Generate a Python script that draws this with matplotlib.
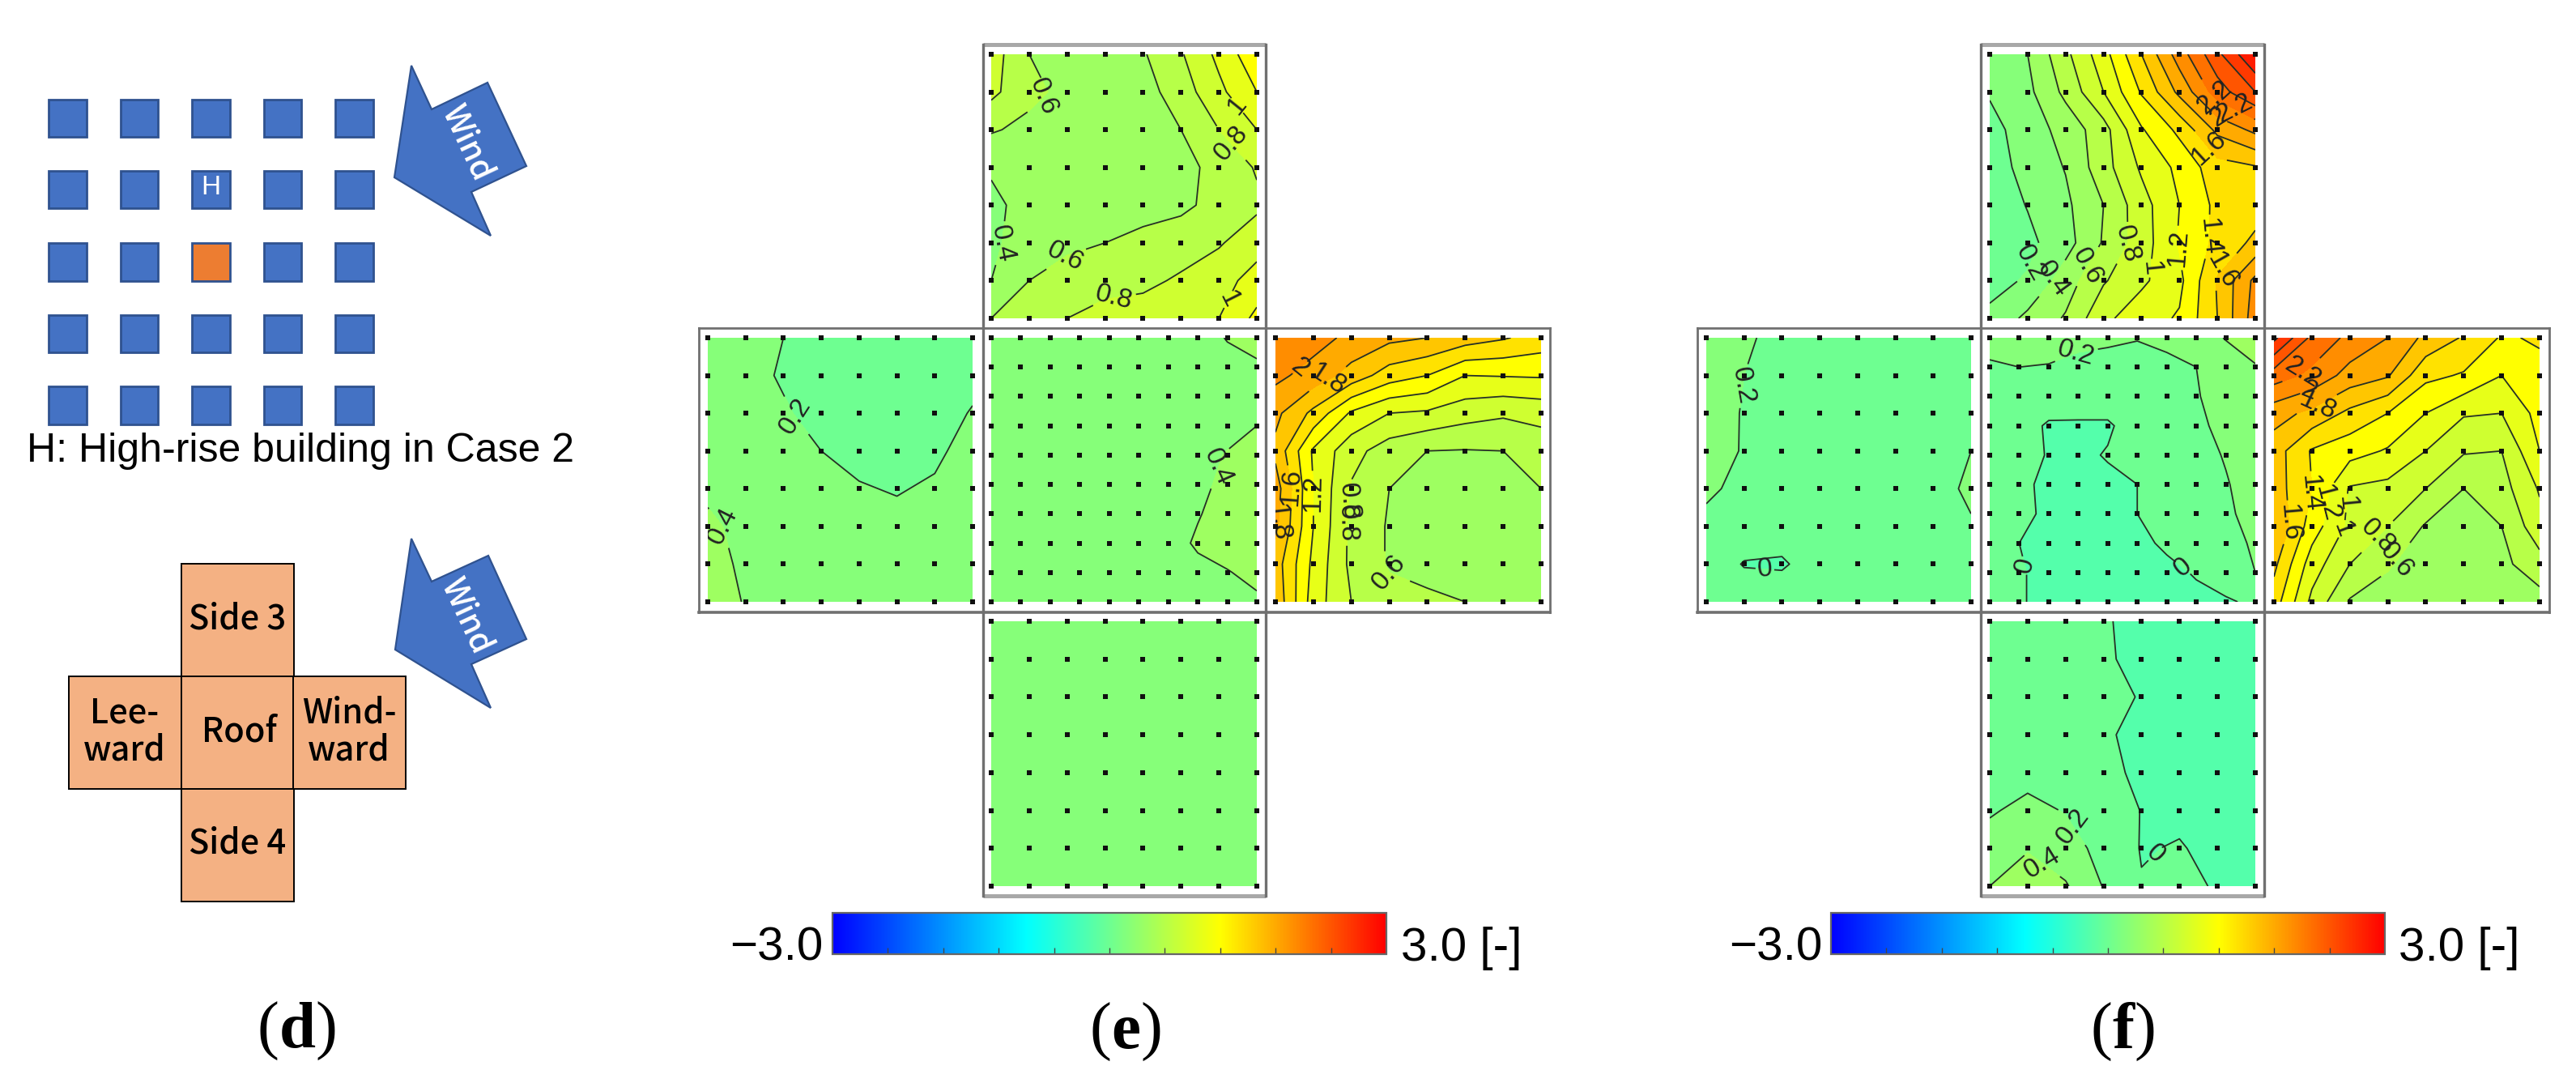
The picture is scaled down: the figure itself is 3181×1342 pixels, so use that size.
import numpy as np
import matplotlib
matplotlib.use("Agg")
import matplotlib.pyplot as plt
from matplotlib.colors import LinearSegmentedColormap, Normalize
from matplotlib.cm import ScalarMappable
from matplotlib.patches import Polygon, Rectangle

W, H = 3181, 1342

# ---------- values (rows top to bottom) ----------
e_side3 = [
    [.90, .60, .55, .50, .58, .78, 1.05, 1.35],
    [.85, .65, .55, .50, .52, .70, .95, 1.20],
    [.62, .55, .50, .48, .50, .60, .80, 1.00],
    [.42, .47, .48, .48, .50, .55, .65, .82],
    [.36, .46, .48, .50, .52, .56, .66, .76],
    [.36, .50, .55, .60, .66, .70, .78, .92],
    [.40, .60, .70, .75, .75, .83, .92, 1.08],
    [.60, .68, .80, .85, .90, .95, 1.00, 1.25],
]
e_leeward = [
    [.32, .26, .20, .15, .13, .12, .12, .13],
    [.30, .23, .19, .15, .12, .11, .12, .16],
    [.31, .26, .21, .17, .14, .13, .14, .21],
    [.33, .28, .25, .20, .16, .15, .17, .26],
    [.38, .30, .27, .24, .21, .19, .22, .28],
    [.42, .37, .30, .28, .26, .24, .26, .30],
    [.44, .38, .33, .30, .29, .28, .28, .30],
    [.48, .39, .35, .33, .32, .31, .30, .30],
]
e_roof = [
    [.28, .28, .28, .28, .29, .30, .30, .32, .41, .50],
    [.28, .28, .28, .28, .29, .29, .30, .31, .34, .36],
    [.28, .28, .28, .28, .29, .29, .30, .31, .33, .36],
    [.28, .28, .28, .28, .29, .29, .30, .32, .35, .40],
    [.28, .28, .28, .28, .29, .30, .31, .35, .41, .47],
    [.28, .28, .28, .28, .29, .30, .32, .37, .43, .50],
    [.28, .28, .28, .28, .29, .30, .33, .39, .46, .52],
    [.28, .28, .28, .28, .29, .30, .34, .42, .48, .52],
    [.28, .28, .28, .28, .29, .30, .32, .36, .39, .45],
    [.28, .28, .28, .28, .29, .30, .30, .32, .34, .37],
]
e_windward = [
    [2.20, 2.08, 1.95, 1.85, 1.80, 1.70, 1.62, 1.52],
    [2.05, 1.92, 1.72, 1.50, 1.40, 1.20, 1.21, 1.22],
    [1.85, 1.55, 1.17, 1.00, .97, .88, .83, .87],
    [1.75, 1.17, .87, .70, .60, .59, .60, .68],
    [1.90, 1.20, .78, .60, .55, .52, .52, .60],
    [1.85, 1.20, .75, .58, .52, .50, .52, .55],
    [1.70, 1.15, .75, .58, .53, .50, .52, .55],
    [1.75, 1.10, .80, .67, .64, .60, .55, .55],
]
e_side4 = [
    [.30, .30, .30, .30, .30, .30, .30, .30],
    [.30, .30, .30, .30, .30, .30, .30, .30],
    [.30, .30, .30, .30, .30, .30, .30, .30],
    [.30, .30, .30, .30, .30, .30, .30, .30],
    [.30, .30, .30, .30, .30, .30, .30, .30],
    [.30, .30, .30, .30, .30, .30, .30, .30],
    [.30, .30, .30, .30, .30, .30, .30, .30],
    [.30, .30, .30, .30, .30, .30, .30, .30],
]
f_side3 = [
    [.30, .40, .75, 1.12, 1.60, 2.10, 2.55, 3.00],
    [.22, .35, .65, 1.00, 1.42, 1.85, 2.30, 2.60],
    [.13, .30, .47, .72, 1.18, 1.45, 1.85, 2.05],
    [.10, .27, .41, .72, 1.03, 1.25, 1.52, 1.58],
    [.07, .21, .36, .60, .92, 1.20, 1.45, 1.50],
    [.05, .15, .32, .62, .90, 1.22, 1.45, 1.65],
    [.14, .22, .50, .78, .96, 1.15, 1.62, 2.05],
    [.24, .45, .62, .95, 1.12, 1.22, 1.60, 2.10],
]
f_leeward = [
    [.30, .22, .16, .12, .10, .10, .10, .10],
    [.28, .20, .14, .10, .09, .09, .10, .11],
    [.27, .19, .13, .10, .09, .09, .10, .13],
    [.26, .19, .13, .10, .09, .09, .11, .20],
    [.22, .17, .12, .10, .09, .09, .16, .22],
    [.17, .10, .08, .08, .09, .09, .12, .19],
    [.10, -.01, -.02, .08, .09, .09, .10, .12],
    [.11, .10, .10, .10, .10, .10, .10, .11],
]
f_roof = [
    [.32, .30, .28, .26, .24, .21, .25, .30, .41, .55],
    [.16, .20, .19, .14, .12, .12, .15, .20, .30, .38],
    [.10, .10, .09, .08, .08, .08, .11, .19, .26, .33],
    [.08, .07, -.02, -.02, -.02, .07, .10, .17, .24, .30],
    [.10, .06, -.01, -.03, .01, .06, .09, .15, .21, .28],
    [.10, .03, -.03, -.04, -.03, .00, .07, .12, .19, .26],
    [.09, .04, -.03, -.05, -.04, -.00, .05, .10, .18, .24],
    [.08, .00, -.04, -.05, -.05, -.03, .02, .08, .15, .22],
    [.08, .01, -.03, -.05, -.05, -.05, -.03, .01, .09, .20],
    [.08, .01, -.03, -.05, -.05, -.05, -.05, -.03, -.02, .03],
]
f_windward = [
    [2.85, 2.35, 2.15, 2.00, 1.75, 1.58, 1.38, 1.42],
    [2.30, 2.15, 1.92, 1.82, 1.45, 1.38, 1.20, 1.35],
    [1.88, 1.75, 1.55, 1.40, 1.20, 1.02, 1.00, 1.27],
    [1.70, 1.38, 1.28, 1.18, 1.00, .82, .80, 1.20],
    [1.70, 1.40, .98, .94, .80, .60, .72, 1.02],
    [1.80, 1.30, .95, .80, .58, .55, .60, .93],
    [1.65, 1.10, .80, .62, .50, .50, .55, .72],
    [1.50, .95, .58, .52, .50, .50, .50, .52],
]
f_side4 = [
    [.07, .07, .05, .01, -.03, -.05, -.05, -.05],
    [.07, .07, .05, .01, -.02, -.05, -.05, -.05],
    [.08, .08, .07, .05, -.01, -.04, -.05, -.05],
    [.09, .08, .05, .01, -.02, -.04, -.05, -.05],
    [.12, .14, .20, .04, -.03, -.04, -.05, -.05],
    [.18, .25, .19, .10, -.005, -.03, -.05, -.05],
    [.28, .39, .28, .14, -.01, .01, -.04, -.05],
    [.40, .48, .42, .19, .01, .03, -.01, -.04],
]

contour_levels = [round(v, 1) for v in np.arange(-3.0, 3.01, 0.2)]
colorbar_ticks = [-2.4, -1.8, -1.2, -0.6, 0.0, 0.6, 1.2, 1.8, 2.4]

# ---------- label placement (column, row on each patch grid) ----------
e_labels = {
    "side3": [(1.3, 1.04), (6.52, 1.33), (6.25, 2.42), (.33, 5.03), (1.98, 5.42), (3.25, 6.56), (6.25, 6.5)],
    "leeward": [(2.35, 2.05), (.55, 4.96)],
    "roof": [(7.84, 4.47)],
    "windward": [(.55, .67), (1.23, .82), (1.75, 4.32), (2.88, 6.34), (1.68, 4.9), (.18, 4.9), (.4, 3.97), (1, 4.12)],
    "side4": [],
}
f_labels = {
    "side3": [(1.12, 5.57), (1.84, 6.07), (2.74, 5.72), (3.72, 5.08), (4.24, 5.67), (4.99, 5.13), (5.71, 4.84),
              (6.12, 5.72), (6.04, 1.04), (6.22, 1.48), (5.97, 1.82), (5.82, 2.47)],
    "leeward": [(.85, 1.26), (1.53, 6.39)],
    "roof": [(2.95, .6), (.92, 7.83), (6.61, 7.77)],
    "windward": [(.78, .95), (.93, 1.41), (1.2, 1.9), (.7, 4.07), (1.23, 4.36), (1.68, 4.36), (1.68, 5),
                 (2.65, 5.2), (3.34, 5.99), (.25, 4.91)],
    "side4": [(2.22, 5.4), (1.39, 6.38), (4.39, 6.18)],
}

# ---------- colour scale ----------
cmap = LinearSegmentedColormap.from_list(
    "cp", [(0.0, "#0000ff"), (0.35, "#00ffff"), (0.70, "#ffff00"), (1.0, "#ff0000")], N=512)
norm = Normalize(-3, 3)
band_colors = [cmap(norm(v)) for v in contour_levels[:-1]]  # each band takes the colour of its lower level

fig = plt.figure(figsize=(W / 100, H / 100), dpi=100, facecolor="white")


def rect_axes(x0, y0, x1, y1, **kw):
    return fig.add_axes([x0 / W, 1 - y1 / H, (x1 - x0) / W, (y1 - y0) / H], **kw)


bg = fig.add_axes([0, 0, 1, 1], zorder=0)
bg.set_xlim(0, W)
bg.set_ylim(H, 0)
bg.axis("off")

over = fig.add_axes([0, 0, 1, 1], zorder=5)
over.set_xlim(0, W)
over.set_ylim(H, 0)
over.axis("off")
over.patch.set_alpha(0)

SANS = ["Liberation Sans", "DejaVu Sans"]
SERIF = ["Liberation Serif", "DejaVu Serif"]
LABEL = ["Noto Sans CJK JP", "Noto Sans", "DejaVu Sans"]
BLUE, BLUE_EDGE = "#4472C4", "#2F528F"


def wind_arrow(pts, center):
    bg.add_patch(Polygon(pts, closed=True, fc=BLUE, ec=BLUE_EDGE, lw=1.6))
    bg.text(center[0], center[1], "Wind", color="white", fontsize=29, family=["Noto Sans CJK JP", "DejaVu Sans"],
            weight="medium", rotation=-65, rotation_mode="anchor", ha="center", va="center")


def caption(cx, cy, letter):
    em = 81
    adv = {"d": .556, "e": .444, "f": .333}[letter] * em
    fs = em * .72
    bg.text(cx - adv / 2, cy, "(", family=SERIF, fontsize=fs, ha="right", va="center_baseline")
    bg.text(cx, cy, letter, family=SERIF, weight="bold", fontsize=fs, ha="center", va="center_baseline")
    bg.text(cx + adv / 2, cy, ")", family=SERIF, fontsize=fs, ha="left", va="center_baseline")


# ---------- panel (d) ----------
col_edges = [(60, 107), (149, 195), (237, 284), (326, 372), (414, 461)]
row_edges = [(123, 169), (211, 257), (300, 347), (389, 435), (477, 524)]
for r, (y0, y1) in enumerate(row_edges):
    for c, (x0, x1) in enumerate(col_edges):
        fc = "#ED7D31" if (r, c) == (2, 2) else BLUE
        bg.add_patch(Rectangle((x0, y0), x1 - x0, y1 - y0, fc=fc, ec=BLUE_EDGE, lw=2))
bg.text(260, 232, "H", color="white", fontsize=24, family=SANS, ha="center", va="center")
bg.text(33, 570, "H: High-rise building in Case 2", fontsize=36, family=SANS, ha="left", va="baseline")
wind_arrow([(508, 81), (533, 135), (602, 102), (650, 205), (582, 237), (606, 291), (487, 219)], (577, 176))
wind_arrow([(508, 665), (533, 718), (603, 686), (650, 789), (582, 820), (606, 874), (488, 802)], (576, 760))

net = [(224, 696), (85, 835), (224, 835), (362, 835), (224, 974)]
for x, y in net:
    bg.add_patch(Rectangle((x, y), 139, 139, fc="#F4B183", ec="black", lw=1.4))
for (x, y), s in zip([(293, 764), (154, 880), (154, 926), (295, 903), (431, 880), (431, 926), (293, 1041)],
                     ["Side 3", "Lee-", "ward", "Roof", "Wind-", "ward", "Side 4"]):
    bg.text(x, y, s, fontsize=30, family=LABEL, weight="medium", ha="center", va="center")
caption(367, 1265, "d")


# ---------- contour panels ----------
def patch(x0, y0, x1, y1, values, labels):
    z = np.array(values, dtype=float)
    n = z.shape[0]
    ax = rect_axes(x0, y0, x1, y1, zorder=2)
    ax.axis("off")
    xs, ys = np.arange(n), np.arange(n)
    ax.contourf(xs, ys, z, levels=contour_levels, colors=band_colors)
    if z.max() - z.min() > 0:
        cs = ax.contour(xs, ys, z, levels=contour_levels, colors="#263026", linewidths=1.3)
        if labels:
            ax.clabel(cs, manual=labels, fmt="%g", fontsize=24, inline=True, inline_spacing=1)
            for t in cs.labelTexts:
                t.set_family(SANS)
                t.set_color("#222222")
    gx, gy = np.meshgrid(xs, ys)
    ax.scatter(gx.ravel(), gy.ravel(), s=14, marker="s", c="#101010", linewidths=0, clip_on=False, zorder=4)
    ax.set_xlim(0, n - 1)
    ax.set_ylim(n - 1, 0)


def panel(fx, px, data, labels, letter, cap_x, bar_x, lo_x, hi_x):
    (l0, l1), (c0, c1), (r0, r1) = px
    ys = [(67, 393), (417, 743), (767, 1094)]
    patch(c0, ys[0][0], c1, ys[0][1], data["side3"], labels["side3"])
    patch(l0, ys[1][0], l1, ys[1][1], data["leeward"], labels["leeward"])
    patch(c0, ys[1][0], c1, ys[1][1], data["roof"], labels["roof"])
    patch(r0, ys[1][0], r1, ys[1][1], data["windward"], labels["windward"])
    patch(c0, ys[2][0], c1, ys[2][1], data["side4"], labels["side4"])

    dark, light = "#707070", "#a8a8a8"
    over.plot([fx[1], fx[2]], [55, 55], color=light, lw=3.6, solid_capstyle="butt")
    over.plot([fx[1], fx[2]], [1106, 1106], color=light, lw=3.6, solid_capstyle="butt")
    over.plot([fx[0], fx[3]], [405, 405], color=dark, lw=2.0)
    over.plot([fx[0], fx[3]], [756, 756], color=dark, lw=2.6)
    over.plot([fx[1], fx[1]], [55, 1106], color=dark, lw=2.4)
    over.plot([fx[2], fx[2]], [55, 1106], color=dark, lw=2.4)
    over.plot([fx[0], fx[0]], [405, 756], color=dark, lw=2.0)
    over.plot([fx[3], fx[3]], [405, 756], color=dark, lw=2.0)

    cax = rect_axes(bar_x[0], 1127, bar_x[1], 1178, zorder=2)
    cb = fig.colorbar(ScalarMappable(norm=norm, cmap=cmap), cax=cax, orientation="horizontal")
    cb.set_ticks(colorbar_ticks, labels=[""] * len(colorbar_ticks))
    cb.ax.minorticks_off()
    cb.ax.xaxis.set_ticks_position("bottom")
    cb.ax.tick_params(axis="x", which="major", direction="in", length=6, width=1, color="#444444",
                      labelbottom=False, bottom=True, top=False)
    cb.outline.set_edgecolor("#666666")
    cb.outline.set_linewidth(1.6)
    bg.text(lo_x, 1186, "\u22123.0", fontsize=42, family=SANS, ha="right", va="baseline")
    bg.text(hi_x, 1186, "3.0 [-]", fontsize=42, family=SANS, ha="left", va="baseline")
    caption(cap_x, 1266, letter)


panel([863, 1214, 1563, 1914],
      [(874, 1201), (1224, 1552), (1575, 1903)],
      dict(side3=e_side3, leeward=e_leeward, roof=e_roof, windward=e_windward, side4=e_side4),
      e_labels, "e", 1390, (1028, 1712), 1016, 1730)
panel([2096, 2446, 2796, 3148],
      [(2107, 2434), (2457, 2785), (2808, 3136)],
      dict(side3=f_side3, leeward=f_leeward, roof=f_roof, windward=f_windward, side4=f_side4),
      f_labels, "f", 2622, (2261, 2945), 2250, 2962)

fig.savefig("out.png", dpi=100, facecolor="white")
